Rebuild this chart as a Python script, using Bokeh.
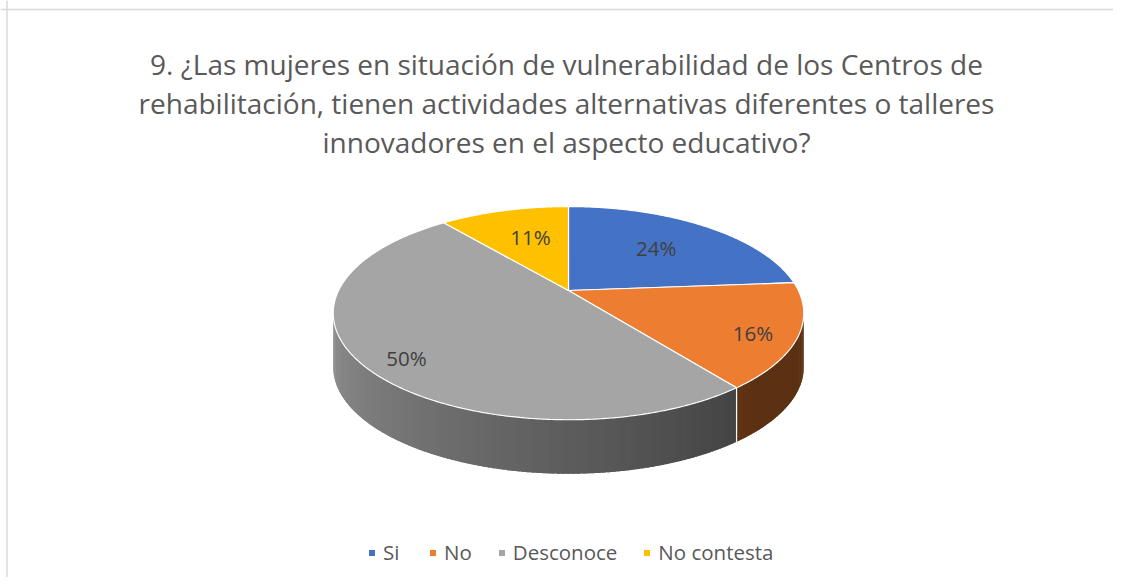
import math
from bokeh.plotting import figure
from bokeh.models import Range1d, Legend, LegendItem, Span
from bokeh.core.properties import value
from bokeh.embed import file_html
from bokeh.resources import INLINE

# ---------------- data ----------------
categories = ["Si", "No", "Desconoce", "No contesta"]
percent = [24, 16, 50, 11]
colors = ["#4472C4", "#ED7D31", "#A5A5A5", "#FFC000"]
title_lines = [
    "9. ¿Las mujeres en situación de vulnerabilidad de los Centros de",
    "rehabilitación, tienen actividades alternativas diferentes o talleres",
    "innovadores en el aspecto educativo?",
]

# ---------------- layout / style ----------------
W, H = 1113, 577          # figure size
CX, CY = 568, 290         # projected pie centre (px)
R, R2, K = 229.9, 101.8, 0.2124   # perspective ellipse params
DEPTH = 54                # side thickness (px)
label_r = [0.625, 0.83, 0.85, 0.625]
label_dth = [-0.7, 3.2, -5.1, 2.3]
FONT = "Open Sans"

def proj(r, th_deg):
    t = math.radians(th_deg)
    u, v = r * math.sin(t), r * math.cos(t)
    d = 1 + K * v
    return CX + R * u / d, CY - R2 * v / d

def shade(hex_color, f):
    h = hex_color.lstrip("#")
    rgb = [int(h[i:i + 2], 16) for i in (0, 2, 4)]
    return "#%02x%02x%02x" % tuple(max(0, min(255, int(round(c * f)))) for c in rgb)

total = float(sum(percent))
starts, ends = [], []
acc = 0.0
for v in percent:
    starts.append(acc / total * 360.0)
    acc += v
    ends.append(acc / total * 360.0)

p = figure(width=W, height=H, output_backend="svg", toolbar_location=None,
           x_range=Range1d(0, W), y_range=Range1d(H, 0),
           min_border=0, background_fill_color="white", border_fill_color="white")
p.xaxis.visible = False
p.yaxis.visible = False
p.grid.visible = False
p.outline_line_color = None

# chart-area border (top and left visible in reference)
p.add_layout(Span(location=9, dimension="width", line_color="#d9d9d9", line_width=1.5))
p.add_layout(Span(location=6.5, dimension="height", line_color="#d9d9d9", line_width=1.5))

# ---------------- side walls ----------------
vis_a = math.degrees(math.acos(-K))
vis_b = 360.0 - vis_a
step = 1.0
for i in range(len(percent)):
    a0, a1 = max(starts[i], vis_a), min(ends[i], vis_b)
    if a1 <= a0:
        continue
    sx, sy, sc = [], [], []
    n = max(2, int((a1 - a0) / step))
    for j in range(n):
        ta = a0 + (a1 - a0) * j / n
        tb = min(a1, a0 + (a1 - a0) * (j + 1) / n + 0.8)
        m = 4
        top = [proj(1, ta + (tb - ta) * q / m) for q in range(m + 1)]
        xs = [pt[0] for pt in top] + [pt[0] for pt in reversed(top)]
        ys = [pt[1] for pt in top] + [pt[1] + DEPTH for pt in reversed(top)]
        sx.append(xs)
        sy.append(ys)
        tm = a0 + (a1 - a0) * (j + 0.5) / n
        f = min(0.9, max(0.39, 0.40 + 0.004 * (tm - 140.0)))
        sc.append(shade(colors[i], f))
    p.patches(sx, sy, fill_color=sc, line_color=None)

# white vertical edges between slices on the side
for i in range(len(percent)):
    th = ends[i]
    if vis_a < th < vis_b:
        x0, y0 = proj(1, th)
        p.line([x0, x0], [y0, y0 + DEPTH], line_color="white", line_width=1.2)

# ---------------- top faces ----------------
items = []
for i, cat in enumerate(categories):
    xs, ys = [CX], [CY]
    n = max(4, int((ends[i] - starts[i]) / 0.5))
    for j in range(n + 1):
        th = starts[i] + (ends[i] - starts[i]) * j / n
        x, y = proj(1, th)
        xs.append(x)
        ys.append(y)
    r = p.patch(xs, ys, fill_color=colors[i], line_color="white", line_width=1.2)
    items.append(LegendItem(label=cat, renderers=[r]))

# ---------------- data labels ----------------
lx, ly, lt = [], [], []
for i, v in enumerate(percent):
    mid = 0.5 * (starts[i] + ends[i]) + label_dth[i]
    x, y = proj(label_r[i], mid)
    lx.append(x)
    ly.append(y)
    lt.append(f"{v}%")
p.text(x=lx, y=ly, text=lt, text_font=value(FONT), text_font_size="20.5px",
       text_color="#404040", text_align="center", text_baseline="middle")

# ---------------- title ----------------
tx = [566] * len(title_lines)
ty = [63 + 39 * i for i in range(len(title_lines))]
p.text(x=tx, y=ty, text=title_lines, text_font=value(FONT), text_font_size="28px",
       text_color="#595959", text_align="center", text_baseline="alphabetic")

# ---------------- legend ----------------
legend = Legend(items=items, orientation="horizontal", location=(367, 11),
                glyph_width=9, glyph_height=9, label_standoff=7, spacing=25,
                padding=0, margin=0, border_line_color=None,
                background_fill_alpha=0,
                label_text_font=FONT, label_text_font_size="20.5px",
                label_text_color="#595959")
p.add_layout(legend, "center")

open("out.html", "w").write(file_html(p, INLINE))
